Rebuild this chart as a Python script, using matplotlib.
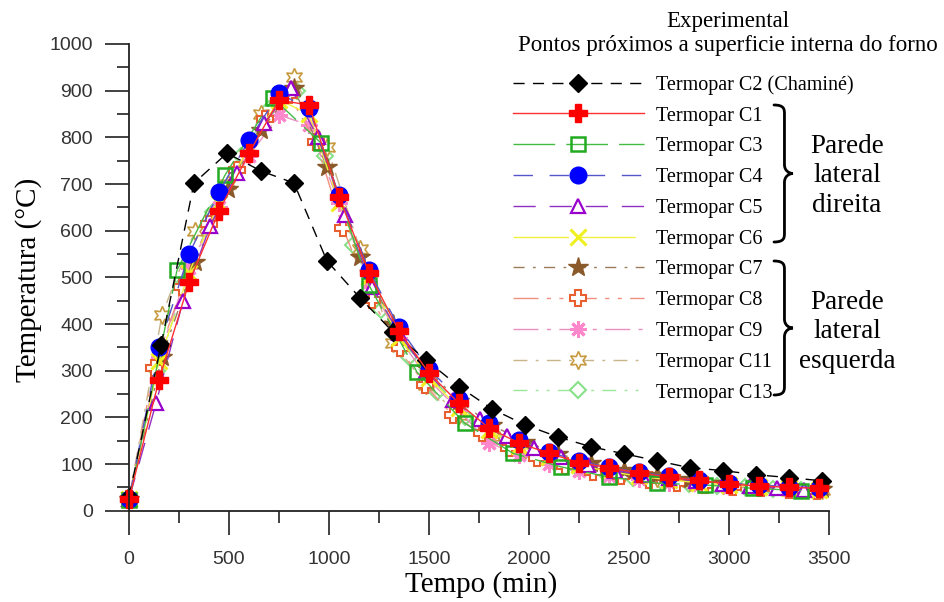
import numpy as np
import matplotlib
matplotlib.use("Agg")
import matplotlib.pyplot as plt
from matplotlib.path import Path
from matplotlib.patches import PathPatch

# ---------------- data ----------------
t_c2 = [0, 160, 325, 490, 660, 825, 990, 1155, 1320, 1485, 1650, 1815, 1980, 2145, 2310, 2475, 2640, 2805, 2970, 3135, 3300, 3465]
T_c2 = [29, 355, 702, 766, 728, 702, 535, 456, 383, 323, 266, 218, 184, 158, 137, 122, 107, 92, 86, 77, 71, 64]

t_c1 = [0, 150, 300, 450, 600, 750, 900, 1050, 1200, 1350, 1500, 1650, 1800, 1950, 2100, 2250, 2400, 2550, 2700, 2850, 3000, 3150, 3300, 3450]
T_c1 = [25, 280, 489, 642, 766, 880, 869, 672, 510, 385, 295, 230, 177, 145, 123, 103, 92, 81, 72, 65, 57, 53, 50, 48]

t_c3 = [0, 240, 480, 720, 960, 1200, 1440, 1680, 1920, 2160, 2400, 2640, 2880, 3120, 3360]
T_c3 = [22, 515, 719, 884, 788, 483, 297, 187, 123, 94, 72, 59, 55, 48, 43]

t_c4 = [0, 150, 300, 450, 600, 750, 900, 1050, 1200, 1350, 1500, 1650, 1800, 1950, 2100, 2250, 2400, 2550, 2700, 2850, 3000, 3150, 3300, 3450]
T_c4 = [25, 350, 550, 683, 794, 894, 862, 676, 515, 393, 303, 240, 187, 152, 126, 106, 93, 82, 74, 66, 59, 55, 51, 49]

t_c5 = [0, 135, 270, 405, 540, 675, 810, 945, 1080, 1215, 1350, 1485, 1620, 1755, 1890, 2025, 2160, 2295, 2430, 2565, 2700, 2835, 2970, 3105, 3240, 3375]
T_c5 = [25, 230, 449, 610, 723, 830, 905, 800, 633, 480, 380, 300, 237, 196, 160, 134, 114, 98, 86, 77, 70, 64, 58, 53, 48, 45]

t_c6 = [0, 150, 300, 450, 600, 750, 900, 1050, 1200, 1350, 1500, 1650, 1800, 1950, 2100, 2250, 2400, 2550, 2700, 2850, 3000, 3150, 3300, 3450]
T_c6 = [25, 320, 510, 660, 780, 880, 850, 660, 500, 370, 285, 220, 172, 138, 115, 97, 84, 74, 66, 60, 55, 51, 48, 45]

t_c7 = [0, 165, 330, 495, 660, 825, 990, 1155, 1320, 1485, 1650, 1815, 1980, 2145, 2310, 2475, 2640, 2805, 2970, 3135, 3300, 3465]
T_c7 = [25, 330, 533, 690, 815, 905, 736, 543, 400, 305, 235, 183, 148, 122, 102, 87, 76, 67, 60, 55, 51, 47]

t_c8 = [0, 125, 265, 400, 540, 680, 800, 935, 1070, 1215, 1355, 1480, 1620, 1765, 1900, 2040, 2180, 2320, 2460, 2600, 2740, 2880, 3020, 3160, 3300, 3440]
T_c8 = [25, 305, 479, 615, 730, 840, 890, 790, 605, 451, 348, 269, 204, 166, 135, 112, 95, 83, 74, 66, 60, 55, 51, 48, 45, 43]

t_c9 = [0, 150, 300, 450, 600, 750, 900, 1050, 1200, 1350, 1500, 1650, 1800, 1950, 2100, 2250, 2400, 2550, 2700, 2850, 3000, 3150, 3300, 3450]
T_c9 = [25, 330, 520, 650, 760, 848, 826, 660, 490, 370, 280, 215, 145, 120, 100, 85, 75, 67, 60, 55, 51, 48, 45, 43]

t_c11 = [0, 165, 330, 495, 660, 825, 990, 1155, 1320, 1485, 1650, 1815, 1980, 2145, 2310, 2475, 2640, 2805, 2970, 3135, 3300, 3465]
T_c11 = [25, 420, 600, 700, 850, 930, 780, 560, 360, 270, 205, 160, 130, 108, 92, 80, 70, 62, 56, 52, 48, 45]

t_c13 = [0, 140, 280, 420, 560, 700, 840, 980, 1120, 1260, 1400, 1540, 1680, 1820, 1960, 2100, 2240, 2380, 2520, 2660, 2800, 2940, 3080, 3220, 3360]
T_c13 = [25, 300, 490, 640, 760, 860, 900, 760, 570, 430, 330, 255, 200, 160, 130, 108, 92, 80, 71, 64, 58, 53, 50, 47, 44]

labels = ["Termopar C2 (Chaminé)", "Termopar C1", "Termopar C3", "Termopar C4",
          "Termopar C5", "Termopar C6", "Termopar C7", "Termopar C8",
          "Termopar C9", "Termopar C11", "Termopar C13"]
legend_title1 = "Experimental"
legend_title2 = "Pontos próximos a superficie interna do forno"
group_right = "Parede\nlateral\ndireita"
group_left = "Parede\nlateral\nesquerda"
xlabel = "Tempo (min)"
ylabel = "Temperatura (°C)"

# ---------------- figure ----------------
W, H = 945, 602
fig = plt.figure(figsize=(W / 100, H / 100), dpi=100)
fig.patch.set_facecolor("white")
ax = fig.add_axes([129 / W, 1 - 510.7 / H, 700 / W, 466.7 / H])

serif = ["Liberation Serif", "DejaVu Serif"]
sans = ["Liberation Sans", "DejaVu Sans"]

hexagram = (6, 1, 0)
asterisk = (8, 2, 0)

series = [
    ("C13", t_c13, T_c13, 10, dict(color="#99E899", ls=(0, (10, 6, 2, 6, 2, 6)), marker="D", ms=8, mfc="white", mec="#88E088", mew=1.5)),
    ("C11", t_c11, T_c11, 9, dict(color="#C8B488", ls=(0, (10, 6, 2, 6)), marker=hexagram, ms=13, mfc="white", mec="#C89A40", mew=1.2)),
    ("C9", t_c9, T_c9, 8, dict(color="#E890C0", ls=(0, (18, 6, 3, 6)), marker=asterisk, ms=12, mfc="#FF88CC", mec="#FF88CC", mew=2.2)),
    ("C8", t_c8, T_c8, 7, dict(color="#F09080", ls=(0, (18, 6, 3, 6, 3, 6)), marker="P", ms=12, mfc="white", mec="#E86030", mew=1.5)),
    ("C7", t_c7, T_c7, 6, dict(color="#9A7B5B", ls=(0, (8, 6, 2, 6)), marker="*", ms=15, mfc="#8B5A2B", mec="#8B5A2B", mew=1)),
    ("C6", t_c6, T_c6, 5, dict(color="#F0F040", ls=(0, (40, 8)), marker="x", ms=11, mfc="#F0F020", mec="#F0F020", mew=2.2)),
    ("C5", t_c5, T_c5, 4, dict(color="#9030C0", ls=(0, (16, 10)), marker="^", ms=10, mfc="white", mec="#9900CC", mew=1.6)),
    ("C3", t_c3, T_c3, 2, dict(color="#44BB44", ls=(0, (30, 8)), marker="s", ms=10.5, mfc="none", mec="#22AA22", mew=1.8)),
    ("C4", t_c4, T_c4, 3, dict(color="#5555CC", ls=(0, (14, 12)), marker="o", ms=12, mfc="#0000FF", mec="#0000FF", mew=1)),
    ("C2", t_c2, T_c2, 0, dict(color="black", ls=(0, (8, 6)), marker="D", ms=9, mfc="black", mec="black", mew=1)),
    ("C1", t_c1, T_c1, 1, dict(color="#FF3030", ls="-", marker="P", ms=12.5, mfc="#FF0000", mec="#FF0000", mew=1)),
]

handles = [None] * len(labels)
for key, t, T, idx, st in series:
    (ln,) = ax.plot(t, T, lw=1.0, clip_on=False, label=labels[idx], **st)
    handles[idx] = ln

ax.set_xlim(0, 3500)
ax.set_ylim(0, 1000)
ax.set_xticks(np.arange(0, 3501, 500))
ax.set_xticks(np.arange(0, 3501, 250), minor=True)
ax.set_yticks(np.arange(0, 1001, 100))
ax.set_yticks(np.arange(0, 1001, 50), minor=True)
for s in ["top", "right"]:
    ax.spines[s].set_visible(False)
for s in ["left", "bottom"]:
    ax.spines[s].set_linewidth(1.3)
    ax.spines[s].set_color("#222222")
ax.tick_params(axis="both", which="major", direction="out", length=17, width=1.3, color="#333333",
               labelsize=14, labelcolor="#333333")
ax.tick_params(axis="both", which="minor", direction="out", length=8.5, width=1.3, color="#333333")
ax.tick_params(axis="y", which="major", pad=9)
ax.tick_params(axis="x", which="major", pad=12)
for lab in ax.get_xticklabels() + ax.get_yticklabels():
    lab.set_family(sans)

ax.set_xlabel(xlabel, family=serif, fontsize=21)
ax.set_ylabel(ylabel, family=serif, fontsize=21)
ax.xaxis.set_label_coords(352 / 700, -60 / 466.7, transform=ax.transAxes)
ax.yaxis.set_label_coords(-87 / 700, (510.7 - 280) / 466.7, transform=ax.transAxes)

leg = ax.legend(handles=handles, labels=labels, loc="upper left",
                bbox_to_anchor=(513 / W, 1 - 75 / H), bbox_transform=fig.transFigure,
                frameon=False, prop={"family": serif, "size": 14.5},
                handlelength=6.5, handletextpad=0.6, labelspacing=0.58,
                borderpad=0, borderaxespad=0, numpoints=1)
leg.set_clip_on(False)

fig.text(728 / W, 1 - 21 / H, legend_title1, family=serif, fontsize=16.5, ha="center", va="center")
fig.text(728 / W, 1 - 46 / H, legend_title2, family=serif, fontsize=16.5, ha="center", va="center")


def brace_path(x0, ytop, ybot, w):
    ym = (ytop + ybot) / 2
    r = 9
    xm = x0 + w * 0.55
    verts = [
        (x0, ytop),
        (xm, ytop), (xm, ytop + r * 0.5), (xm, ytop + r),
        (xm, ym - r),
        (xm, ym - r * 0.3), (x0 + w * 0.8, ym), (x0 + w, ym),
        (x0 + w * 0.8, ym), (xm, ym + r * 0.3), (xm, ym + r),
        (xm, ybot - r),
        (xm, ybot - r * 0.5), (xm, ybot), (x0, ybot),
    ]
    codes = [Path.MOVETO,
             Path.CURVE4, Path.CURVE4, Path.CURVE4,
             Path.LINETO,
             Path.CURVE4, Path.CURVE4, Path.CURVE4,
             Path.CURVE4, Path.CURVE4, Path.CURVE4,
             Path.LINETO,
             Path.CURVE4, Path.CURVE4, Path.CURVE4]
    return Path([(x / W, 1 - y / H) for x, y in verts], codes)


for (yt, yb) in [(105, 242), (261, 395)]:
    p = PathPatch(brace_path(774, yt, yb, 19), transform=fig.transFigure,
                  fill=False, lw=2.0, edgecolor="black", capstyle="round")
    fig.add_artist(p)

fig.text(847 / W, 1 - 176 / H, group_right, family=serif, fontsize=19.5,
         ha="center", va="center", multialignment="center", linespacing=1.26)
fig.text(847 / W, 1 - 332 / H, group_left, family=serif, fontsize=19.5,
         ha="center", va="center", multialignment="center", linespacing=1.26)

fig.savefig("out.png", dpi=100, facecolor="white")
